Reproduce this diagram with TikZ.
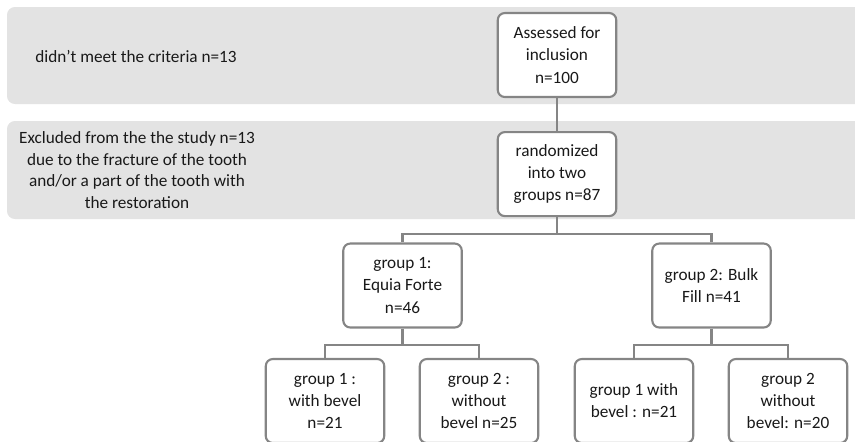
\documentclass[tikz,border=0pt]{standalone}
\usepackage{fontspec}
\setmainfont{Carlito}
\usetikzlibrary{positioning}

\begin{document}
\begin{tikzpicture}[x=0.02cm, y=-0.02cm,
    band/.style={fill=black!11, rounded corners=4.5pt},
    box/.style ={draw=black!48, line width=1.2pt, fill=white, rounded corners=4pt,
                 minimum width=2.37cm, minimum height=1.68cm, inner sep=2pt,
                 align=center, text=black!90, font=\fontsize{9.8}{12.6}\selectfont},
    note/.style={align=center, text=black!90, font=\fontsize{9.8}{12.2}\selectfont},
    link/.style={draw=black!48, line width=1.2pt}
  ]
  \useasboundingbox (0,0) rectangle (855,441);

  % Bands
  \fill[band] (7,7) rectangle (880,104);
  \fill[band] (7,121) rectangle (880,219);

  % Notes
  \node[note] (crit) at (136,56) {didn't meet the criteria n=13};
  \node[note] (excl) at (137,170) {Excluded from the the study n=13\\due to the fracture of the tooth\\and/or a part of the tooth with\\the restoration};

  % Nodes
  \node[box] (assess) at (557,55) {Assessed for\\inclusion\\n=100};
  \node[box, below=0.66cm of assess] (rand) {randomized\\into two\\groups n=87};
  \node[box] (grpA) at (402.5,285.5) {group 1:\\Equia Forte\\n=46};
  \node[box] (grpB) at (711.5,285.5) {group 2: Bulk\\Fill n=41};
  \node[box] (Abev)  at (325,401) {group 1 :\\with bevel\\n=21};
  \node[box] (Anobv) at (479,401) {group 2 :\\without\\bevel n=25};
  \node[box] (Bbev)  at (634,401) {group 1 with\\bevel : n=21};
  \node[box] (Bnobv) at (788,401) {group 2\\without\\bevel: n=20};

  % assess -> rand
  \draw[link] (assess) -- (rand);

  % rand -> groups
  \draw[link] (rand.south) -- ++(0,17) coordinate (split) -| (grpA.north);
  \draw[link] (split) -| (grpB.north);

  % groups -> subgroups
  \draw[link] (grpA.south) -- ++(0,16) coordinate (splitA) -| (Abev.north);
  \draw[link] (splitA) -| (Anobv.north);
  \draw[link] (grpB.south) -- ++(0,16) coordinate (splitB) -| (Bbev.north);
  \draw[link] (splitB) -| (Bnobv.north);
\end{tikzpicture}
\end{document}
